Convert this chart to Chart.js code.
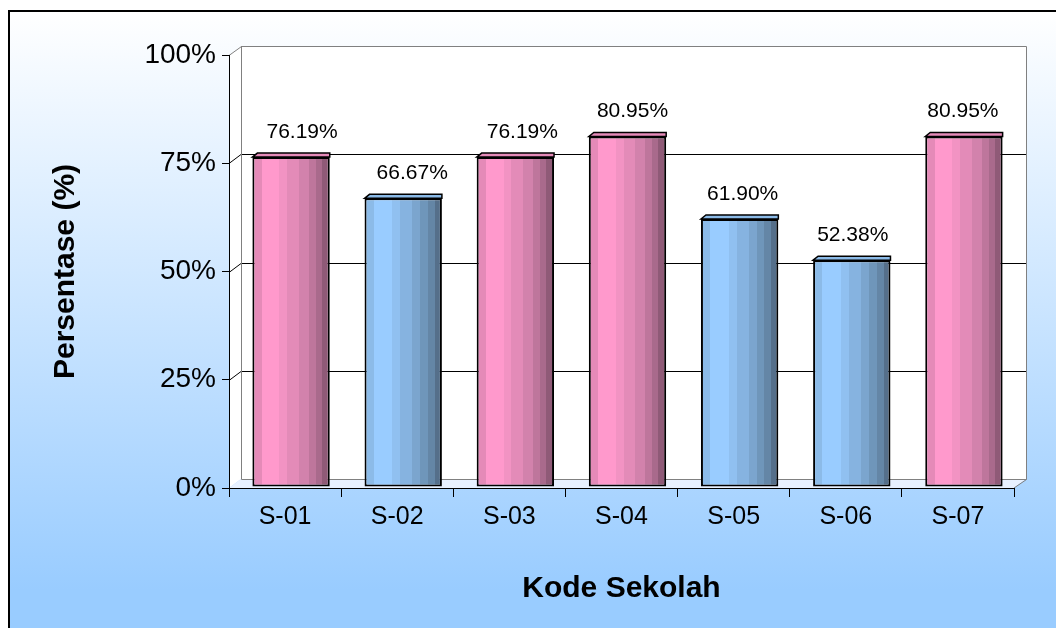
<!DOCTYPE html>
<html><head><meta charset="utf-8">
<script src="https://cdn.jsdelivr.net/npm/chart.js@4/dist/chart.umd.min.js"></script>
<style>html,body{margin:0;padding:0;background:#fff;overflow:hidden}</style>
</head><body><canvas id="c" width="1056" height="628"></canvas>
<script>
const categories = ['S-01','S-02','S-03','S-04','S-05','S-06','S-07'];
const values = [76.19, 66.67, 76.19, 80.95, 61.90, 52.38, 80.95];
const yTicks = [0, 25, 50, 75, 100];
const yTickLabels = ['0%', '25%', '50%', '75%', '100%'];
const xTitle = 'Kode Sekolah';
const yTitle = 'Persentase (%)';
const highThreshold = 75;

const FONT = "'Liberation Sans', Arial, sans-serif";
const DX = 12, DY = -9;   // depth of the 3D walls
const BX = 6, BY = -1;    // bar shift into the depth
const BAR_PCT = 0.69;

const pinkBands = [[0,'#e58ab8'],[0.12,'#ff99cc'],[0.35,'#f293c3'],[0.45,'#e38bb8'],[0.6,'#d282ac'],[0.73,'#be769c'],[0.82,'#a96a8c'],[0.9,'#8f5a77']];
const blueBands = [[0,'#8cbbe8'],[0.12,'#99ccff'],[0.36,'#90c0f0'],[0.46,'#86b3e0'],[0.62,'#7ba5ce'],[0.72,'#6f96ba'],[0.82,'#6486a6'],[0.91,'#556f8a']];

function stripes(ctx, x0, w, bands) {
  const g = ctx.createLinearGradient(x0, 0, x0 + w, 0);
  bands.forEach(([p, c], k) => {
    const e = k < bands.length - 1 ? bands[k + 1][0] : 1;
    g.addColorStop(p, c); g.addColorStop(e, c);
  });
  return g;
}

const scene = {
  id: 'scene',
  beforeDraw(chart) {
    const {ctx, width, height, chartArea: a, scales: {y}} = chart;
    ctx.save();
    ctx.fillStyle = '#fff'; ctx.fillRect(0, 0, width, height);
    const g = ctx.createLinearGradient(0, 10, 0, 590);
    g.addColorStop(0, '#ffffff'); g.addColorStop(1, '#99ccff');
    ctx.fillStyle = g; ctx.fillRect(9, 11, width, height);
    ctx.strokeStyle = '#000'; ctx.lineWidth = 2;
    ctx.beginPath(); ctx.moveTo(9, height + 2); ctx.lineTo(9, 11); ctx.lineTo(width + 2, 11); ctx.stroke();

    // side wall
    ctx.fillStyle = '#fff';
    ctx.beginPath(); ctx.moveTo(a.left, a.top); ctx.lineTo(a.left + DX, a.top + DY); ctx.lineTo(a.left + DX, a.bottom + DY); ctx.lineTo(a.left, a.bottom); ctx.closePath(); ctx.fill();
    // back wall
    ctx.fillRect(a.left + DX, a.top + DY, a.right - a.left, a.bottom - a.top);
    // floor
    ctx.fillStyle = '#e8f1ff';
    ctx.beginPath(); ctx.moveTo(a.left, a.bottom); ctx.lineTo(a.left + DX, a.bottom + DY); ctx.lineTo(a.right + DX, a.bottom + DY); ctx.lineTo(a.right, a.bottom); ctx.closePath(); ctx.fill();
    // gridlines
    ctx.lineWidth = 1; ctx.strokeStyle = '#000';
    yTicks.forEach(v => {
      if (v === 0 || v === 100) return;
      const py = Math.round(y.getPixelForValue(v)) + 0.5;
      ctx.beginPath(); ctx.moveTo(a.left, py); ctx.lineTo(a.left + DX, py + DY); ctx.lineTo(a.right + DX, py + DY); ctx.stroke();
    });
    // wall edges
    ctx.strokeStyle = '#808080';
    ctx.beginPath();
    ctx.moveTo(a.left, a.top + 0.5); ctx.lineTo(a.left + DX + 0.5, a.top + DY + 0.5); ctx.lineTo(a.right + DX + 0.5, a.top + DY + 0.5); ctx.lineTo(a.right + DX + 0.5, a.bottom + DY + 0.5); ctx.lineTo(a.right, a.bottom);
    ctx.moveTo(a.left + DX + 0.5, a.top + DY); ctx.lineTo(a.left + DX + 0.5, a.bottom + DY + 0.5); ctx.lineTo(a.right + DX + 0.5, a.bottom + DY + 0.5);
    ctx.stroke();
    ctx.restore();
  },
  beforeDatasetsDraw(chart) {
    chart.ctx.save();
    chart.ctx.translate(BX, BY);
  },
  afterDatasetsDraw(chart) {
    const ctx = chart.ctx;
    const meta = chart.getDatasetMeta(0);
    meta.data.forEach((el, i) => {
      const {x, y, width} = el.getProps(['x', 'y', 'width'], true);
      const x0 = x - width / 2, x1 = x + width / 2;
      ctx.beginPath(); ctx.moveTo(x0, y); ctx.lineTo(x0 + 5, y - 4); ctx.lineTo(x1, y - 4); ctx.lineTo(x1, y); ctx.closePath();
      ctx.fillStyle = values[i] >= highThreshold ? '#e58ab8' : '#8cbbe8';
      ctx.fill(); ctx.strokeStyle = '#000'; ctx.lineWidth = 1.5; ctx.stroke();
    });
    ctx.restore();
    ctx.save();
    ctx.font = '21px ' + FONT; ctx.fillStyle = '#000'; ctx.textAlign = 'center'; ctx.textBaseline = 'alphabetic';
    meta.data.forEach((el, i) => {
      const {x, y} = el.getProps(['x', 'y'], true);
      ctx.fillText(values[i].toFixed(2) + '%', x + BX + (11 - 2 * i), y + BY - 19);
    });
    ctx.restore();
  }
};

new Chart(document.getElementById('c'), {
  type: 'bar',
  data: {
    labels: categories,
    datasets: [{
      data: values,
      backgroundColor: (c) => {
        const xs = c.chart.scales.x;
        const fallback = (c.raw >= highThreshold) ? '#e38bb8' : '#86b3e0';
        if (!xs || c.type !== 'data' || !(xs.width > 0)) return fallback;
        const w = xs.width / categories.length * BAR_PCT;
        const cx = xs.getPixelForValue(c.dataIndex);
        if (!isFinite(cx) || !isFinite(w)) return fallback;
        return stripes(c.chart.ctx, cx - w / 2, w, c.raw >= highThreshold ? pinkBands : blueBands);
      },
      borderColor: '#000',
      borderWidth: 2,
      borderSkipped: false,
      barPercentage: BAR_PCT,
      categoryPercentage: 1,
      clip: false
    }]
  },
  options: {
    responsive: false,
    animation: false,
    devicePixelRatio: 1,
    layout: {padding: {left: 0, top: 55, right: 42, bottom: 0}},
    plugins: {legend: {display: false}, tooltip: {enabled: false}},
    scales: {
      x: {
        grid: {drawOnChartArea: false, drawTicks: true, tickLength: 9, color: '#000'},
        border: {display: true, color: '#000', width: 1},
        ticks: {color: '#000', font: {family: FONT, size: 25}, padding: 5, maxRotation: 0, autoSkip: false},
        title: {display: true, text: xTitle, color: '#000', font: {family: FONT, size: 30, weight: 'bold'}, padding: {top: 0, bottom: 21}},
        afterFit: s => { s.height = 140; }
      },
      y: {
        min: 0, max: 100,
        afterBuildTicks: s => { s.ticks = yTicks.map(v => ({value: v})); },
        grid: {drawOnChartArea: false, drawTicks: true, tickLength: 7, color: '#000'},
        border: {display: true, color: '#000', width: 1},
        ticks: {color: '#000', font: {family: FONT, size: 28}, padding: 6, callback: (v) => yTickLabels[yTicks.indexOf(v)]},
        title: {display: true, text: yTitle, color: '#000', font: {family: FONT, size: 30, weight: 'bold'}, padding: {top: 48, bottom: 0}},
        afterFit: s => { s.width = 229; }
      }
    }
  },
  plugins: [scene]
});
</script>
</body></html>
